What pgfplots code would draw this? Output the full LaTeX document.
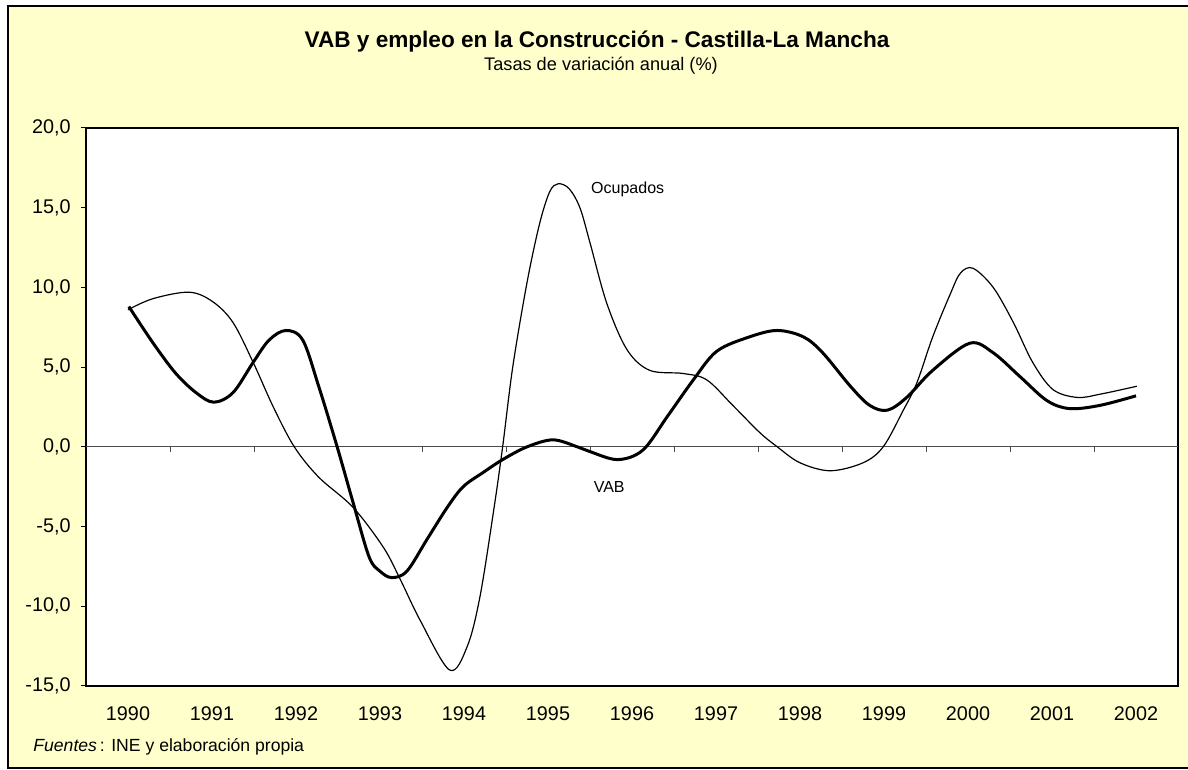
\documentclass[border=0pt]{standalone}
\usepackage{fontspec}
\setmainfont{Liberation Sans}
\usepackage{pgfplots}
\pgfplotsset{compat=1.18}
\definecolor{bgyellow}{RGB}{255,255,204}
\begin{document}
\begin{tikzpicture}
\useasboundingbox (0,0) rectangle (594pt,385pt);
\fill[white] (0,0) rectangle (594pt,385pt);
\filldraw[fill=bgyellow, draw=black, line width=0.6pt] (4pt,1pt) rectangle (596pt,382pt);
\node[anchor=base, font=\fontsize{11.3}{13}\selectfont\bfseries] at (298.5pt,361pt) {VAB y empleo en la Construcción - Castilla-La Mancha};
\node[anchor=base, font=\fontsize{9.1}{11}\selectfont] at (300.5pt,349.5pt) {Tasas de variación anual (\%)};
\node[anchor=base west, font=\fontsize{8.8}{10}\selectfont, inner sep=0pt] at (16.5pt,9pt) {\textit{Fuentes}\,: INE y elaboración propia};
\begin{axis}[
  at={(43pt,42pt)}, anchor=south west,
  scale only axis, width=546pt, height=279pt,
  xmin=-0.5, xmax=12.5, ymin=-15, ymax=20,
  axis background/.style={fill=white},
  axis line style={black, line width=0.6pt},
  xtick={0,...,12},
  xticklabels={1990,1991,1992,1993,1994,1995,1996,1997,1998,1999,2000,2001,2002},
  major x tick style={draw=none},
  ytick={-15,-10,...,20},
  tick align=outside,
  major y tick style={black, line width=0.5pt},
  major tick length=2.5pt,
  xtick pos=bottom, ytick pos=left,
  tick label style={font=\fontsize{9.9}{11}\selectfont},
  yticklabel style={anchor=east, inner sep=0pt, xshift=-5pt},
  xticklabel style={anchor=base, inner sep=0pt, yshift=-14.8pt},
  /pgf/number format/assume math mode=true,
  yticklabel={\pgfmathprintnumber[fixed, fixed zerofill, precision=1, use comma]{\tick}},
  clip=false,
]
\addplot[black!70, line width=0.5pt, forget plot] coordinates {(-0.5,0) (12.5,0)};
\pgfplotsinvokeforeach{0.5,1.5,2.5,3.5,4.5,5.5,6.5,7.5,8.5,9.5,10.5,11.5}{
  \draw[black!70, line width=0.5pt] (axis cs:#1,0) -- ([yshift=-2.5pt]axis cs:#1,0);
}
% Ocupados
\addplot[black, line width=0.6pt, smooth, tension=0.55] coordinates {
(0.00,8.6) (0.30,9.3) (0.73,9.7) (1.01,9.1) (1.25,7.8) (1.49,5.3)
(1.73,2.5) (1.98,0.0) (2.27,-1.9) (2.68,-3.8) (3.04,-6.3) (3.24,-8.3)
(3.48,-10.9) (3.83,-14.0) (4.04,-12.5) (4.19,-9.4) (4.35,-4.1) (4.46,0.0)
(4.58,5.0) (4.75,10.3) (4.90,14.0) (5.02,16.0) (5.12,16.5) (5.25,16.2) (5.38,15.0) (5.50,12.8)
(5.70,9.0) (5.94,6.1) (6.21,4.8) (6.61,4.6) (6.89,4.2) (7.20,2.6)
(7.52,0.9) (7.73,0.0) (8.00,-1.0) (8.36,-1.5) (8.75,-1.0) (8.99,0.0)
(9.23,2.3) (9.39,4.0) (9.58,6.9) (9.79,9.6) (9.91,10.9) (10.06,11.2)
(10.30,10.0) (10.54,7.8) (10.77,5.3) (11.01,3.6) (11.30,3.1) (11.57,3.3)
(12.01,3.8)
};
% VAB
\addplot[black, line width=1.5pt, smooth, tension=0.55] coordinates {
(0.01,8.8) (0.30,6.5) (0.57,4.6) (0.81,3.4) (1.02,2.8) (1.25,3.4)
(1.49,5.3) (1.68,6.7) (1.88,7.3) (2.08,6.7) (2.27,3.8) (2.49,0.0)
(2.68,-3.5) (2.87,-6.9) (3.00,-7.8) (3.14,-8.2) (3.32,-7.8) (3.56,-5.8)
(3.80,-3.8) (3.99,-2.5) (4.23,-1.6) (4.46,-0.8) (4.75,0.0) (5.06,0.44)
(5.35,0.0) (5.50,-0.3) (5.83,-0.8) (6.13,-0.2) (6.42,1.9) (6.73,4.2)
(7.01,6.0) (7.40,6.9) (7.73,7.3) (8.04,6.9) (8.27,5.9) (8.60,3.8)
(8.83,2.6) (9.04,2.3) (9.27,3.1) (9.58,4.8) (10.02,6.5) (10.30,5.9)
(10.62,4.4) (10.94,2.9) (11.21,2.4) (11.57,2.6) (12.00,3.2)
};
\node[anchor=base west, inner sep=0pt, font=\fontsize{8}{10}\selectfont] at (axis cs:5.51,15.87) {Ocupados};
\node[anchor=base west, inner sep=0pt, font=\fontsize{8}{10}\selectfont] at (axis cs:5.54,-2.89) {VAB};
\end{axis}
\end{tikzpicture}
\end{document}
